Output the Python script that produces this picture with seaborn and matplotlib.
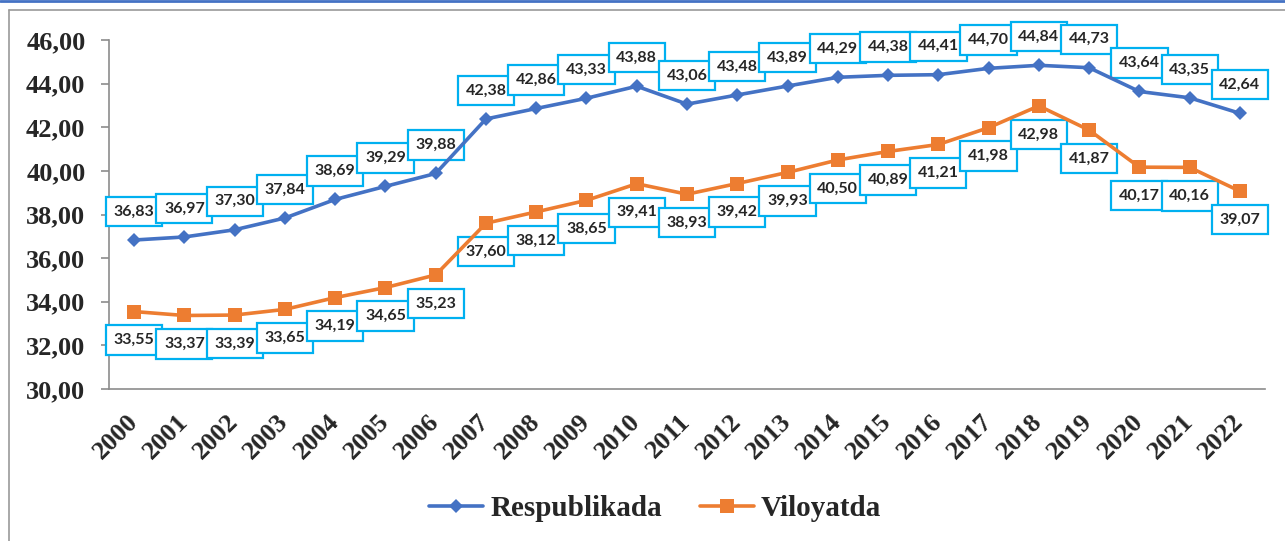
import matplotlib
matplotlib.use("Agg")
import matplotlib.pyplot as plt
import seaborn as sns
import pandas as pd
from matplotlib.lines import Line2D

years = [str(y) for y in range(2000, 2023)]
respublikada = [36.83, 36.97, 37.30, 37.84, 38.69, 39.29, 39.88, 42.38, 42.86, 43.33, 43.88,
                43.06, 43.48, 43.89, 44.29, 44.38, 44.41, 44.70, 44.84, 44.73, 43.64, 43.35, 42.64]
viloyatda = [33.55, 33.37, 33.39, 33.65, 34.19, 34.65, 35.23, 37.60, 38.12, 38.65, 39.41,
             38.93, 39.42, 39.93, 40.50, 40.89, 41.21, 41.98, 42.98, 41.87, 40.17, 40.16, 39.07]
series_names = ["Respublikada", "Viloyatda"]
yticks = [30, 32, 34, 36, 38, 40, 42, 44, 46]

BLUE = "#4472C4"
ORANGE = "#ED7D31"
CYAN = "#00B0F0"
GRAY = "#8C8C8C"

sns.set_style("white")
plt.rcParams["font.family"] = ["Liberation Serif", "DejaVu Serif"]

fig = plt.figure(figsize=(12.85, 5.41), dpi=100)
ax = fig.add_axes([109/1285, 1-389/541, (1265-109)/1285, (389-40)/541])

df = pd.DataFrame({"x": list(range(len(years))), "r": respublikada, "v": viloyatda})

sns.lineplot(data=df, x="x", y="r", ax=ax, color=BLUE, lw=2.6, marker="D", markersize=7.5,
             markeredgewidth=0, zorder=4)
sns.lineplot(data=df, x="x", y="v", ax=ax, color=ORANGE, lw=2.6, marker="s", markersize=9.5,
             markeredgewidth=0, zorder=4)

def fmt(v):
    return f"{v:.2f}".replace(".", ",")

box = dict(boxstyle="square,pad=0.48", fc="white", ec=CYAN, lw=1.6)
for i, (a, b) in enumerate(zip(respublikada, viloyatda)):
    ax.annotate(fmt(a), (i, a), xytext=(0, 20.5), textcoords="offset points",
                ha="center", va="center", fontsize=11.5, fontweight="bold",
                family=["Lato", "DejaVu Sans"], bbox=box, zorder=3)
    ax.annotate(fmt(b), (i, b), xytext=(0, -20.5), textcoords="offset points",
                ha="center", va="center", fontsize=11.5, fontweight="bold",
                family=["Lato", "DejaVu Sans"], bbox=box, zorder=3)

ax.set_xlim(-0.5, len(years) - 0.5)
ax.set_ylim(30, 46)
ax.set_yticks(yticks)
ax.set_yticklabels([fmt(t) for t in yticks], fontsize=19, fontweight="bold")
ax.set_xticks(range(len(years)))
ax.set_xticklabels(years, fontsize=19, fontweight="bold", rotation=45, ha="right",
                   va="center", rotation_mode="anchor")
ax.set_xticks([i - 0.5 for i in range(len(years) + 1)], minor=True)
ax.tick_params(axis="x", which="major", length=0, pad=21)
ax.tick_params(axis="x", which="minor", length=6, width=1.2, color=GRAY, direction="out")
ax.tick_params(axis="y", which="major", length=6, width=1.2, color=GRAY, direction="out", left=True, pad=11)
ax.set_xlabel("")
ax.set_ylabel("")
for s in ["top", "right"]:
    ax.spines[s].set_visible(False)
for s in ["left", "bottom"]:
    ax.spines[s].set_color(GRAY)
    ax.spines[s].set_linewidth(1.2)
ax.grid(False)

handles = [Line2D([], [], color=BLUE, lw=2.6, marker="D", markersize=7.5, markeredgewidth=0),
           Line2D([], [], color=ORANGE, lw=2.6, marker="s", markersize=9.5, markeredgewidth=0)]
fig.legend(handles, series_names, loc="center", bbox_to_anchor=(655/1285, 1-509/541), ncol=2,
           frameon=False, prop={"size": 21, "weight": "bold"}, handlelength=1.85,
           handletextpad=0.25, columnspacing=1.3)

# outer frame and top accent line
fig.add_artist(Line2D([9/1285, 1], [1-10/541, 1-10/541], color="#9A9A9A", lw=1.2, transform=fig.transFigure))
fig.add_artist(Line2D([9/1285, 9/1285], [0, 1-10/541], color="#9A9A9A", lw=1.2, transform=fig.transFigure))
fig.add_artist(Line2D([0, 1], [1-1/541, 1-1/541], color=BLUE, lw=2, transform=fig.transFigure))

fig.savefig("out.png", dpi=100)
